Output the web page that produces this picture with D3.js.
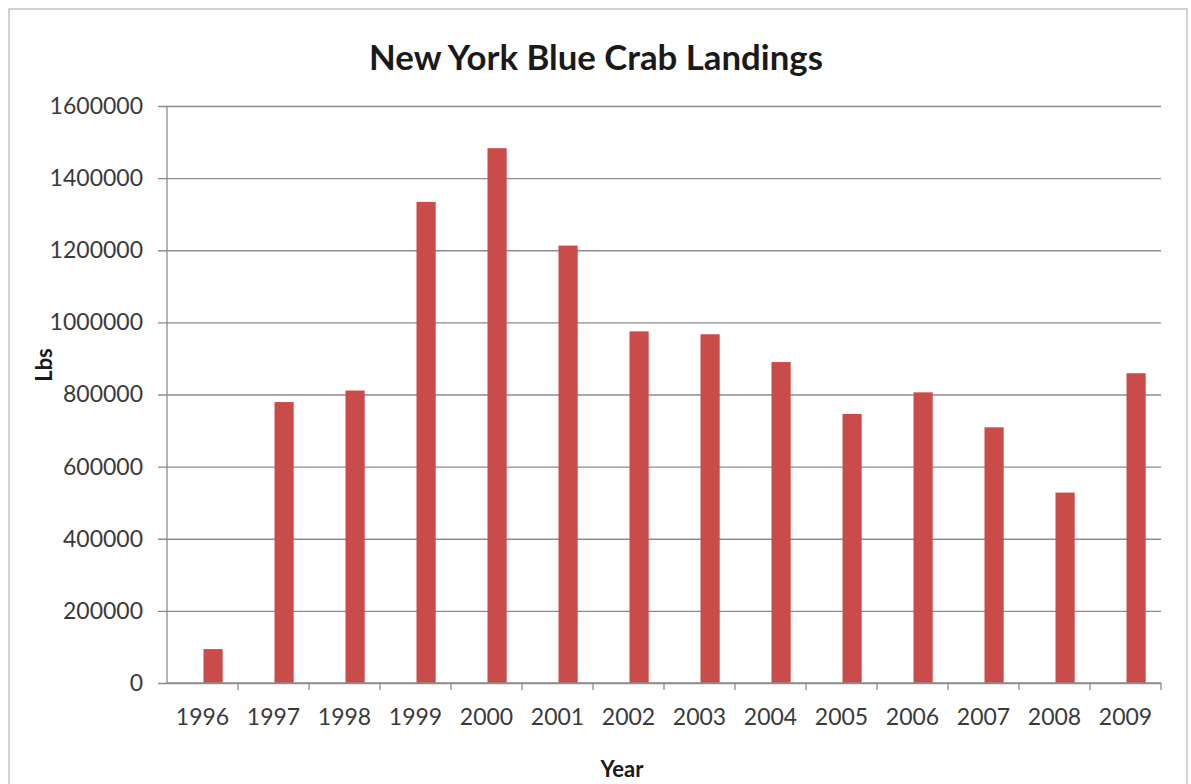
<!DOCTYPE html>
<html>
<head>
<meta charset="utf-8">
<script src="https://cdn.jsdelivr.net/npm/d3@7"></script>
<style>
  html, body { margin: 0; padding: 0; background: #ffffff; }
  svg { display: block; }
  text { font-family: Lato, "Open Sans", "DejaVu Sans", sans-serif; }
</style>
</head>
<body>
<svg id="chart" width="1191" height="784"></svg>
<script>
// ---- data ----
const chartTitle = "New York Blue Crab Landings";
const xAxisTitle = "Year";
const yAxisTitle = "Lbs";
const years = ["1996","1997","1998","1999","2000","2001","2002","2003","2004","2005","2006","2007","2008","2009"];
const landings = [94000, 779000, 811000, 1334000, 1483000, 1213000, 975000, 967000, 890000, 746000, 806000, 709000, 528000, 859000];
const yTicks = [0, 200000, 400000, 600000, 800000, 1000000, 1200000, 1400000, 1600000];

// ---- layout ----
const plot = { left: 167, right: 1161, top: 106, bottom: 683 };

const svg = d3.select("#chart");

// outer chart border
svg.append("rect")
  .attr("x", 9).attr("y", 9)
  .attr("width", 1178).attr("height", 800)
  .attr("fill", "none")
  .attr("stroke", "#c4c4c4")
  .attr("stroke-width", 1.5);

const x = d3.scaleBand().domain(years).range([plot.left, plot.right]).padding(0);
const y = d3.scaleLinear().domain([0, 1600000]).range([plot.bottom, plot.top]);

// gridlines + y axis
const yAxis = d3.axisLeft(y)
  .tickValues(yTicks)
  .tickFormat(d3.format("d"))
  .tickSize(-(plot.right - plot.left))
  .tickPadding(14);

const gy = svg.append("g")
  .attr("transform", `translate(${plot.left},0)`)
  .call(yAxis);
gy.select(".domain").remove();
gy.selectAll(".tick line")
  .attr("x1", -9)
  .attr("stroke", "#8c8c8c")
  .attr("stroke-width", 1.3);
gy.selectAll(".tick text")
  .attr("fill", "#3a3a3a")
  .style("font-size", "23px")
  .attr("x", -24);

// y axis line
svg.append("line")
  .attr("x1", plot.left).attr("x2", plot.left)
  .attr("y1", y(1600000)).attr("y2", y(0))
  .attr("stroke", "#8c8c8c").attr("stroke-width", 1.3);

// bars
const barW = x.bandwidth() * 0.27;
svg.append("g").selectAll("rect")
  .data(years.map((yr, i) => ({ yr, v: landings[i] })))
  .join("rect")
  .attr("x", d => x(d.yr) + x.bandwidth() / 2 + 1)
  .attr("y", d => y(d.v))
  .attr("width", barW)
  .attr("height", d => y(0) - y(d.v))
  .attr("fill", "#c94b4a");

// x axis
const xAxis = d3.axisBottom(x).tickSize(0).tickPadding(26);
const gx = svg.append("g")
  .attr("transform", `translate(0,${plot.bottom})`)
  .call(xAxis);
gx.select(".domain").remove();
gx.selectAll(".tick text")
  .attr("fill", "#3a3a3a")
  .style("font-size", "23px");

// x axis baseline + category boundary ticks
svg.append("line")
  .attr("x1", plot.left).attr("x2", plot.right)
  .attr("y1", plot.bottom).attr("y2", plot.bottom)
  .attr("stroke", "#8c8c8c").attr("stroke-width", 1.3);
const boundaries = years.map(yr => x(yr) + x.bandwidth());
svg.append("g").selectAll("line")
  .data(boundaries)
  .join("line")
  .attr("x1", d => d).attr("x2", d => d)
  .attr("y1", plot.bottom).attr("y2", plot.bottom + 7)
  .attr("stroke", "#8c8c8c").attr("stroke-width", 1.3);

// title (fitted to the reference's width)
const title = svg.append("text")
  .attr("x", 596).attr("y", 70)
  .attr("text-anchor", "middle")
  .attr("fill", "#1a1a1a")
  .style("font-size", "30px")
  .style("font-weight", "bold")
  .text(chartTitle);
const tw = title.node().getComputedTextLength();
if (tw > 0) title.style("font-size", (30 * 454 / tw).toFixed(2) + "px");

// x axis title
svg.append("text")
  .attr("x", 622).attr("y", 777)
  .attr("text-anchor", "middle")
  .attr("fill", "#1a1a1a")
  .style("font-size", "22px")
  .style("font-weight", "bold")
  .text(xAxisTitle);

// y axis title
svg.append("text")
  .attr("transform", "translate(52,365) rotate(-90)")
  .attr("text-anchor", "middle")
  .attr("fill", "#1a1a1a")
  .style("font-size", "22px")
  .style("font-weight", "bold")
  .text(yAxisTitle);
</script>
</body>
</html>
